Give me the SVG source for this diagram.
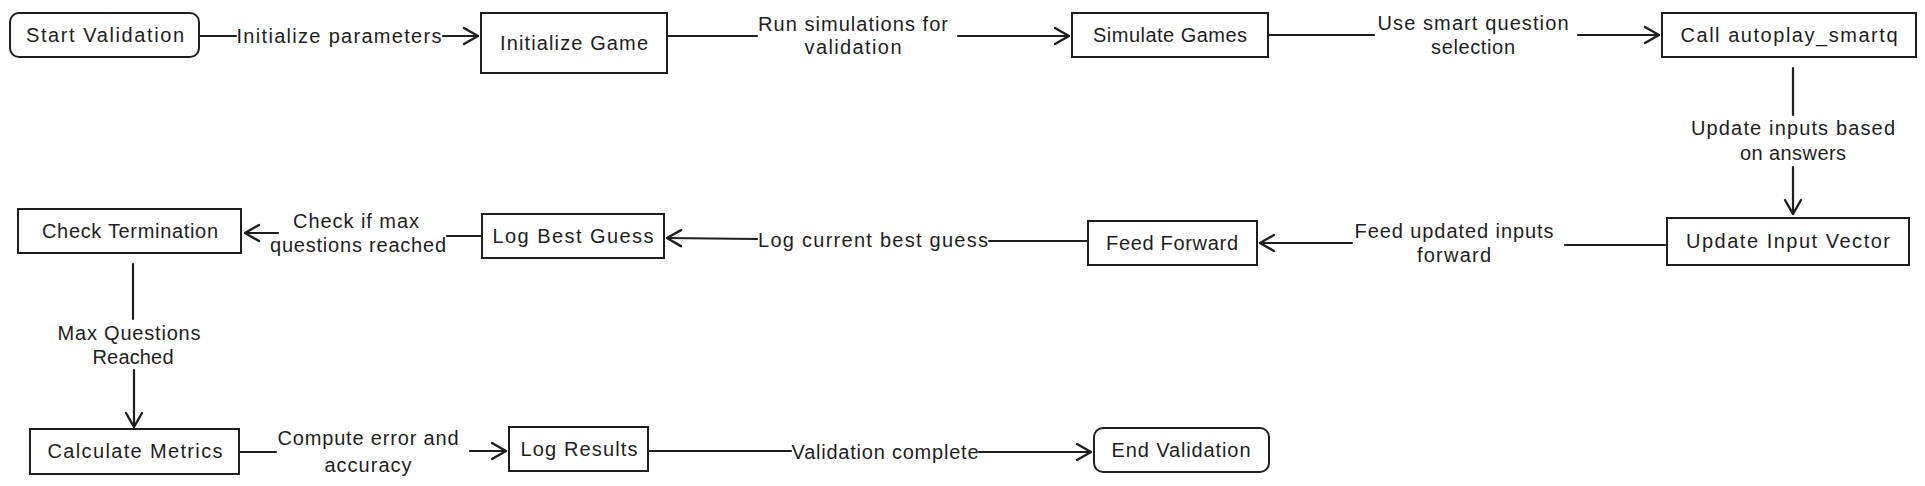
<svg xmlns="http://www.w3.org/2000/svg" width="1925" height="486" viewBox="0 0 1925 486">
<defs>
<marker id="arr" viewBox="-16 -10 18 20" refX="0" refY="0" markerWidth="18" markerHeight="20" orient="auto" markerUnits="userSpaceOnUse">
<path d="M-14,-8 L0,0 L-14,8" fill="none" stroke="#1e1e1e" stroke-width="2.4" stroke-linecap="round" stroke-linejoin="round"/>
</marker>
<style>
.n{fill:#ffffff;stroke:#1e1e1e;stroke-width:2}
.t{font-family:"Liberation Sans",Arial,sans-serif;font-size:20px;fill:#1e1e1e;text-anchor:middle;dominant-baseline:central}
.c{fill:none;stroke:#1e1e1e;stroke-width:2.2;stroke-linecap:round}
.a{marker-end:url(#arr)}
</style>
</defs>
<rect width="1925" height="486" fill="#ffffff"/>
<g id="connectors">
<line class="c" x1="199" y1="36" x2="236" y2="36"/>
<line class="c a" x1="443" y1="36" x2="478" y2="36"/>
<text class="t" x="339" y="36" textLength="205" lengthAdjust="spacing">Initialize parameters</text>
<line class="c" x1="667" y1="36" x2="757" y2="36"/>
<line class="c a" x1="958" y1="36" x2="1069" y2="36"/>
<text class="t" x="853" y="24" textLength="190" lengthAdjust="spacing">Run simulations for</text>
<text class="t" x="853" y="47" textLength="97" lengthAdjust="spacing">validation</text>
<line class="c" x1="1268" y1="35" x2="1374" y2="35"/>
<line class="c a" x1="1578" y1="35" x2="1659" y2="35"/>
<text class="t" x="1473" y="23" textLength="191" lengthAdjust="spacing">Use smart question</text>
<text class="t" x="1473" y="47" textLength="84" lengthAdjust="spacing">selection</text>
<line class="c" x1="1793" y1="68" x2="1793" y2="115"/>
<line class="c a" x1="1793" y1="167" x2="1793" y2="214"/>
<text class="t" x="1793" y="128" textLength="204" lengthAdjust="spacing">Update inputs based</text>
<text class="t" x="1793" y="153" textLength="106" lengthAdjust="spacing">on answers</text>
<line class="c" x1="1665" y1="245" x2="1565" y2="245"/>
<line class="c a" x1="1352" y1="243" x2="1260" y2="243"/>
<text class="t" x="1454" y="231" textLength="199" lengthAdjust="spacing">Feed updated inputs</text>
<text class="t" x="1454" y="255" textLength="74" lengthAdjust="spacing">forward</text>
<line class="c" x1="1088" y1="241" x2="989" y2="241"/>
<line class="c a" x1="757" y1="239" x2="667" y2="238"/>
<text class="t" x="873" y="240" textLength="230" lengthAdjust="spacing">Log current best guess</text>
<line class="c" x1="482" y1="236" x2="447" y2="236"/>
<line class="c a" x1="278" y1="233" x2="245" y2="233"/>
<text class="t" x="356" y="221" textLength="126" lengthAdjust="spacing">Check if max</text>
<text class="t" x="358" y="245" textLength="176" lengthAdjust="spacing">questions reached</text>
<line class="c" x1="133" y1="264" x2="133" y2="319"/>
<line class="c a" x1="134" y1="370" x2="134" y2="427"/>
<text class="t" x="129" y="333" textLength="143" lengthAdjust="spacing">Max Questions</text>
<text class="t" x="133" y="357" textLength="81" lengthAdjust="spacing">Reached</text>
<line class="c" x1="239" y1="452" x2="276" y2="452"/>
<line class="c a" x1="470" y1="451" x2="506" y2="451"/>
<text class="t" x="368" y="438" textLength="181" lengthAdjust="spacing">Compute error and</text>
<text class="t" x="368" y="465" textLength="87" lengthAdjust="spacing">accuracy</text>
<line class="c" x1="648" y1="451" x2="791" y2="451"/>
<line class="c a" x1="979" y1="452" x2="1091" y2="452"/>
<text class="t" x="885" y="452" textLength="187" lengthAdjust="spacing">Validation complete</text>
</g>
<g id="start-validation"><rect class="n" x="10" y="13" width="189" height="44" rx="9"/><text class="t" x="105" y="35" textLength="158" lengthAdjust="spacing">Start Validation</text></g>
<g id="initialize-game"><rect class="n" x="481" y="13" width="186" height="60"/><text class="t" x="574" y="43" textLength="148" lengthAdjust="spacing">Initialize Game</text></g>
<g id="simulate-games"><rect class="n" x="1072" y="13" width="196" height="44"/><text class="t" x="1170" y="35" textLength="154" lengthAdjust="spacing">Simulate Games</text></g>
<g id="call-autoplay"><rect class="n" x="1662" y="13" width="254" height="44"/><text class="t" x="1789" y="35" textLength="217" lengthAdjust="spacing">Call autoplay_smartq</text></g>
<g id="update-input-vector"><rect class="n" x="1667" y="218" width="242" height="47"/><text class="t" x="1788" y="241" textLength="204" lengthAdjust="spacing">Update Input Vector</text></g>
<g id="feed-forward"><rect class="n" x="1088" y="221" width="169" height="44"/><text class="t" x="1172" y="243" textLength="132" lengthAdjust="spacing">Feed Forward</text></g>
<g id="log-best-guess"><rect class="n" x="482" y="214" width="182" height="44"/><text class="t" x="573" y="236" textLength="161" lengthAdjust="spacing">Log Best Guess</text></g>
<g id="check-termination"><rect class="n" x="18" y="209" width="223" height="44"/><text class="t" x="130" y="231" textLength="176" lengthAdjust="spacing">Check Termination</text></g>
<g id="calculate-metrics"><rect class="n" x="30" y="429" width="209" height="45"/><text class="t" x="135" y="451" textLength="175" lengthAdjust="spacing">Calculate Metrics</text></g>
<g id="log-results"><rect class="n" x="509" y="427" width="139" height="44"/><text class="t" x="579" y="449" textLength="117" lengthAdjust="spacing">Log Results</text></g>
<g id="end-validation"><rect class="n" x="1094" y="428" width="175" height="44" rx="9"/><text class="t" x="1181" y="450" textLength="139" lengthAdjust="spacing">End Validation</text></g>
</svg>
